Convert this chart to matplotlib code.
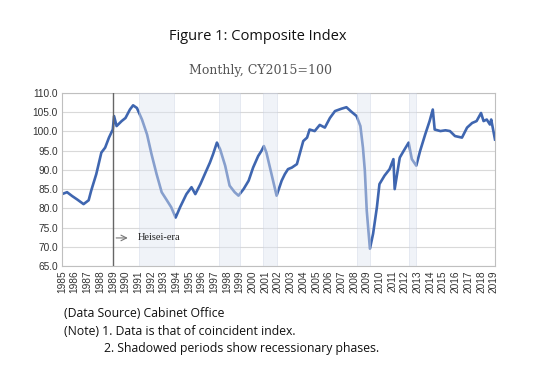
import matplotlib
matplotlib.use("Agg")
import matplotlib.pyplot as plt

# composite index (coincident), year as fraction
years = [1985.0, 1985.4, 1985.8, 1986.2, 1986.7, 1987.1, 1987.3, 1987.7, 1988.1, 1988.4,
         1988.7, 1989.0, 1989.1, 1989.3, 1989.7, 1990.0, 1990.35, 1990.6, 1990.9, 1991.3,
         1991.7, 1992.05, 1992.45, 1992.85, 1993.2, 1993.6, 1993.95, 1994.3, 1994.8, 1995.2,
         1995.5, 1995.9, 1996.3, 1996.65, 1996.9, 1997.2, 1997.45, 1997.85, 1998.2, 1998.6,
         1998.9, 1999.3, 1999.7, 2000.05, 2000.45, 2000.7, 2000.9, 2001.1, 2001.5, 2001.9,
         2002.3, 2002.55, 2002.8, 2003.1, 2003.5, 2003.75, 2004.0, 2004.3, 2004.5, 2004.9,
         2005.3, 2005.7, 2006.1, 2006.5, 2007.0, 2007.4, 2007.8, 2008.2, 2008.5, 2008.7,
         2008.85, 2009.0, 2009.25, 2009.5, 2009.8, 2010.0, 2010.4, 2010.8, 2011.1, 2011.2,
         2011.6, 2011.9, 2012.3, 2012.55, 2012.9, 2013.2, 2013.6, 2013.95, 2014.2, 2014.35,
         2014.8, 2015.2, 2015.55, 2015.95, 2016.5, 2016.9, 2017.3, 2017.65, 2018.0, 2018.2,
         2018.45, 2018.7, 2018.8, 2019.1]
index = [83.7, 84.2, 83.2, 82.3, 81.1, 82.1, 84.6, 88.9, 94.5, 95.8,
         98.4, 100.5, 104.0, 101.4, 102.7, 103.5, 105.7, 106.8, 106.1, 103.1,
         99.2, 94.1, 88.9, 84.2, 82.4, 80.3, 77.6, 80.3, 83.7, 85.5,
         83.7, 86.3, 89.3, 91.9, 94.1, 97.1, 95.4, 91.1, 85.9, 84.2,
         83.3, 85.0, 87.2, 90.6, 93.6, 94.9, 96.2, 94.5, 88.9, 83.3,
         87.2, 88.9, 90.2, 90.6, 91.5, 94.5, 97.5, 98.4, 100.5, 100.1,
         101.7, 101.0, 103.5, 105.3, 105.9, 106.3, 105.1, 104.0, 101.4, 95.8,
         89.8, 79.4, 69.5, 73.4, 80.3, 86.3, 88.5, 90.2, 92.8, 85.0,
         93.2, 94.9, 97.1, 92.8, 91.1, 94.9, 99.2, 102.7, 105.7, 100.5,
         100.1, 100.3, 100.1, 98.8, 98.4, 101.0, 102.2, 102.7, 104.8, 102.7,
         103.1, 101.8, 103.1, 97.9]

# recession periods (start, end)
recessions = [(1991.1, 1993.85), (1997.35, 1999.05), (2000.85, 2001.95),
              (2008.2, 2009.25), (2012.3, 2012.9)]

tick_years = list(range(1985, 2020))

fig = plt.figure(figsize=(5.5, 3.65), dpi=100)
ax = fig.add_axes([0.1127, 0.2712, 0.7873, 0.474])

ax.plot(years, index, color="#3f66b0", linewidth=1.9, zorder=2)
for start, end in recessions:
    ax.axvspan(start, end, facecolor="#dfe5f1", edgecolor="#c9d1e3",
               linewidth=0.6, alpha=0.45, zorder=3)

# start of Heisei era
ax.axvline(1989.0, color="#666666", linewidth=1.0, zorder=4)
ax.annotate("", xy=(1990.4, 72.3), xytext=(1989.05, 72.3),
            arrowprops=dict(arrowstyle="->", color="#777777", lw=0.8))
ax.text(1991.0, 72.3, "Heisei-era", fontsize=7.5, family="Liberation Serif",
        va="center", ha="left", color="#222222")

ax.set_xlim(1985, 2019.1)
ax.set_ylim(65, 110)
ax.set_yticks([65 + 5 * i for i in range(10)])
ax.set_yticklabels([f"{65 + 5 * i:.1f}" for i in range(10)])
ax.set_xticks(tick_years)
ax.set_xticklabels([str(y) for y in tick_years], rotation=90)
ax.tick_params(axis="both", length=0, labelsize=7.3, labelcolor="#333333", pad=3)
for lab in ax.get_xticklabels() + ax.get_yticklabels():
    lab.set_family("Liberation Sans")
ax.grid(axis="y", color="#d9d9d9", linewidth=0.8, zorder=0)
ax.set_axisbelow(True)
for sp in ax.spines.values():
    sp.set_color("#bfbfbf")
    sp.set_linewidth(0.8)

fig.text(0.469, 0.899, "Figure 1: Composite Index", ha="center", va="center",
         fontsize=10.5, family="Open Sans", color="#111111")
fig.text(0.473, 0.808, "Monthly, CY2015=100", ha="center", va="center",
         fontsize=9, family="DejaVu Serif", color="#555555")

fig.text(0.116, 0.14, "(Data Source) Cabinet Office", ha="left", va="center",
         fontsize=8.8, family="Open Sans", color="#111111")
fig.text(0.116, 0.093, "(Note) 1. Data is that of coincident index.", ha="left",
         va="center", fontsize=8.8, family="Open Sans", color="#111111")
fig.text(0.189, 0.044, "2. Shadowed periods show recessionary phases.", ha="left",
         va="center", fontsize=8.8, family="Open Sans", color="#111111")

fig.savefig("out.png", dpi=100, facecolor="white")
